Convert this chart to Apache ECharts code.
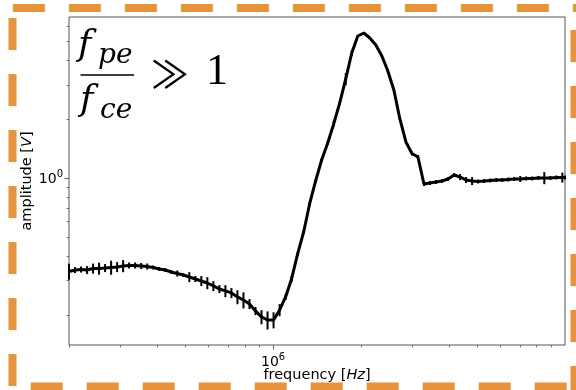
<!DOCTYPE html>
<html><head><meta charset="utf-8">
<script src="https://cdn.jsdelivr.net/npm/echarts@6/dist/echarts.min.js"></script>
<style>html,body{margin:0;padding:0;background:#fff;}#c{width:576px;height:390px;}</style>
</head><body><div id="c"></div>
<script>
const freq = [2.000e5,2.097e5,2.199e5,2.306e5,2.418e5,2.535e5,2.658e5,2.788e5,2.923e5,3.065e5,
3.214e5,3.370e5,3.534e5,3.706e5,3.886e5,4.075e5,4.273e5,4.480e5,4.698e5,4.926e5,
5.166e5,5.417e5,5.680e5,5.956e5,6.245e5,6.549e5,6.867e5,7.201e5,7.551e5,7.918e5,
8.303e5,8.706e5,9.129e5,9.573e5,1.004e6,1.053e6,1.104e6,1.157e6,1.214e6,1.273e6,
1.334e6,1.399e6,1.467e6,1.539e6,1.613e6,1.692e6,1.774e6,1.860e6,1.951e6,2.046e6,
2.145e6,2.249e6,2.359e6,2.473e6,2.593e6,2.719e6,2.852e6,2.990e6,3.135e6,3.288e6,
3.448e6,3.615e6,3.791e6,3.975e6,4.168e6,4.371e6,4.583e6,4.806e6,5.040e6,5.285e6,
5.541e6,5.811e6,6.093e6,6.389e6,6.700e6,7.025e6,7.367e6,7.725e6,8.100e6,8.494e6,
8.907e6,9.340e6,9.794e6,1.000e7];
const amp = [0.3345,0.3404,0.3424,0.3404,0.3465,0.3465,0.3485,0.3506,0.3527,0.3569,
0.3590,0.3590,0.3569,0.3548,0.3506,0.3445,0.3404,0.3325,0.3267,0.3209,
0.3135,0.3063,0.2992,0.2922,0.2822,0.2723,0.2661,0.2599,0.2480,0.2393,
0.2284,0.2104,0.1960,0.1892,0.1892,0.2128,0.2480,0.3063,0.4110,0.5321,
0.7395,0.9687,1.240,1.514,1.892,2.423,3.211,4.358,5.321,5.512,
5.197,4.787,4.207,3.527,2.822,2.007,1.532,1.338,1.284,0.9352,
0.9463,0.9574,0.9687,0.9918,1.039,1.015,0.9802,0.9687,0.9631,0.9687,
0.9745,0.9802,0.9802,0.9860,0.9918,0.9918,0.9977,0.9977,1.0035,1.0035,
1.0035,1.0094,1.0094,1.0094];
const ampErr = [0.0314,0.0120,0.0121,0.0160,0.0204,0.0244,0.0164,0.0288,0.0207,0.0252,
0.0127,0.0127,0.0126,0.0125,0.0082,0.0081,0.0080,0.0078,0.0115,0.0075,
0.0184,0.0108,0.0176,0.0206,0.0166,0.0128,0.0188,0.0153,0.0204,0.0225,
0.0134,0.0099,0.0161,0.0200,0.0178,0.0150,0.0087,0.0108,0.0097,0.0125,
0.0174,0.0228,0.0291,0.0356,0.0667,0.0569,0.2264,0.154,0.0625,0.0648,
0.061,0.056,0.049,0.083,0.033,0.047,0.036,0.031,0.030,0.022,
0.022,0.0225,0.0228,0.0233,0.0244,0.0358,0.0346,0.0455,0.0226,0.0228,
0.0229,0.0230,0.0230,0.0232,0.0233,0.035,0.0234,0.0234,0.0236,0.0707,
0.0236,0.0237,0.0593,0.0237];
const xMinorTicks = [2e5,3e5,4e5,5e5,6e5,7e5,8e5,9e5,2e6,3e6,4e6,5e6,6e6,7e6,8e6,9e6];
const xMajorTicks = [1e6];
const xTickExp = ['6'];
const yMinorTicks = [0.2,0.3,0.4,0.5,0.6,0.7,0.8,0.9,2,3,4,5,6];
const yMajorTicks = [1];
const yTickExp = ['0'];

const FONT = 'DejaVu Sans';
const SPINE = '#555';
const ORANGE = '#e8923a';
const supRich = {
  b: {fontFamily: FONT, fontSize: 14, color: '#000', lineHeight: 17, verticalAlign: 'bottom'},
  s: {fontFamily: FONT, fontSize: 10, color: '#000', lineHeight: 10, verticalAlign: 'top'}
};
const chart = echarts.init(document.getElementById('c'), null, {renderer: 'canvas'});
const xBase = {type: 'log', logBase: 10, min: 2e5, max: 1e7, position: 'bottom', offset: 0,
  axisLine: {show: false}, splitLine: {show: false}, minorTick: {show: false}};
const yBase = {type: 'log', logBase: 10, min: 0.141, max: 6.65, position: 'left', offset: 0,
  axisLine: {show: false}, splitLine: {show: false}, minorTick: {show: false}};
chart.setOption({
  animation: false,
  backgroundColor: '#fff',
  grid: {left: 69, top: 17, right: 11, bottom: 45, show: true, borderColor: SPINE, borderWidth: 1, backgroundColor: 'transparent'},
  xAxis: [
    Object.assign({}, xBase, {
      axisTick: {show: true, customValues: xMinorTicks, length: 2.5, lineStyle: {color: SPINE, width: 0.8}},
      axisLabel: {show: false}
    }),
    Object.assign({}, xBase, {
      axisTick: {show: true, customValues: xMajorTicks, length: 4.5, lineStyle: {color: SPINE, width: 0.9}},
      axisLabel: {show: true, customValues: xMajorTicks, margin: 7,
        formatter: (v) => '{b|10}{s|' + xTickExp[xMajorTicks.indexOf(v)] + '}', rich: supRich},
      name: 'frequency [{i|Hz}]', nameLocation: 'middle', nameGap: 23, nameMoveOverlap: false,
      nameTextStyle: {fontFamily: FONT, fontSize: 14.5, color: '#000',
        rich: {i: {fontFamily: FONT, fontSize: 14.5, fontStyle: 'italic', color: '#000'}}}
    })
  ],
  yAxis: [
    Object.assign({}, yBase, {
      axisTick: {show: true, customValues: yMinorTicks, length: 2.5, lineStyle: {color: SPINE, width: 0.8}},
      axisLabel: {show: false}
    }),
    Object.assign({}, yBase, {
      axisTick: {show: true, customValues: yMajorTicks, length: 4.5, lineStyle: {color: SPINE, width: 0.9}},
      axisLabel: {show: true, customValues: yMajorTicks, margin: 6,
        formatter: (v) => '{b|10}{s|' + yTickExp[yMajorTicks.indexOf(v)] + '}', rich: supRich},
      name: 'amplitude [{i|V}]', nameLocation: 'middle', nameGap: 34, nameMoveOverlap: false,
      nameTextStyle: {fontFamily: FONT, fontSize: 14.5, color: '#000',
        rich: {i: {fontFamily: FONT, fontSize: 14.5, fontStyle: 'italic', color: '#000'}}}
    })
  ],
  series: [
    {type: 'line', xAxisIndex: 0, yAxisIndex: 0, data: freq.map((f, i) => [f, amp[i]]),
      showSymbol: false, symbol: 'none', lineStyle: {color: '#000', width: 3}, z: 3, silent: true},
    {type: 'custom', xAxisIndex: 0, yAxisIndex: 0, silent: true, z: 4,
      data: freq.map((f, i) => [f, amp[i], ampErr[i]]),
      encode: {x: 0, y: 1},
      renderItem: (params, api) => {
        const x = api.value(0), y = api.value(1), e = api.value(2);
        const p1 = api.coord([x, y - e]);
        const p2 = api.coord([x, y + e]);
        return {type: 'line', shape: {x1: p1[0], y1: p1[1], x2: p2[0], y2: p2[1]},
          style: {stroke: '#000', lineWidth: 2}};
      }}
  ],
  graphic: [
    {type: 'line', shape: {x1: 12.9, y1: 8, x2: 590, y2: 8}, style: {stroke: ORANGE, lineWidth: 8, lineDash: [32, 24]}, z: 10},
    {type: 'line', shape: {x1: 12.5, y1: 18, x2: 12.5, y2: 400}, style: {stroke: ORANGE, lineWidth: 8, lineDash: [32, 24]}, z: 10},
    {type: 'line', shape: {x1: 30.7, y1: 386.5, x2: 590, y2: 386.5}, style: {stroke: ORANGE, lineWidth: 8, lineDash: [32, 24]}, z: 10},
    {type: 'line', shape: {x1: 574.5, y1: 30, x2: 574.5, y2: 400}, style: {stroke: ORANGE, lineWidth: 8, lineDash: [32, 24]}, z: 10},
    {type: 'text', x: 78, y: 46, style: {text: 'f', font: 'italic 36px "DejaVu Serif"', fill: '#000', verticalAlign: 'middle'}, z: 10},
    {type: 'text', x: 98, y: 56, style: {text: 'pe', font: 'italic 28px "DejaVu Serif"', fill: '#000', verticalAlign: 'middle'}, z: 10},
    {type: 'line', shape: {x1: 80.5, y1: 75, x2: 134, y2: 75}, style: {stroke: '#000', lineWidth: 1.6}, z: 10},
    {type: 'text', x: 80, y: 101, style: {text: 'f', font: 'italic 36px "DejaVu Serif"', fill: '#000', verticalAlign: 'middle'}, z: 10},
    {type: 'text', x: 100, y: 111, style: {text: 'ce', font: 'italic 28px "DejaVu Serif"', fill: '#000', verticalAlign: 'middle'}, z: 10},
    {type: 'text', x: 151, y: 74, style: {text: '≫', font: '38px "Noto Sans CJK JP"', fill: '#000', verticalAlign: 'middle'}, z: 10},
    {type: 'text', x: 206, y: 72, style: {text: '1', font: '44px "Liberation Serif"', fill: '#000', verticalAlign: 'middle'}, z: 10}
  ]
});
</script></body></html>
